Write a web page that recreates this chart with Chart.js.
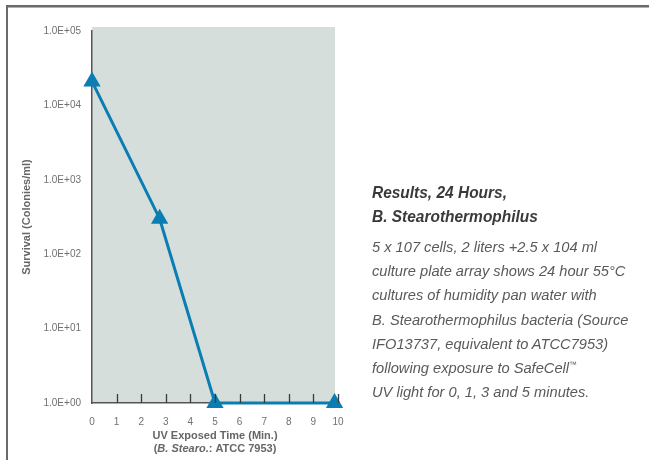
<!DOCTYPE html>
<html>
<head>
<meta charset="utf-8">
<script src="https://cdn.jsdelivr.net/npm/chart.js@4.4.1/dist/chart.umd.min.js"></script>
<style>
  html, body { margin: 0; padding: 0; background: #fff; }
  #wrap { position: relative; width: 649px; height: 460px; overflow: hidden; font-family: "Liberation Sans", Arial, sans-serif; }
  #chart { position: absolute; left: 0; top: 0; }
  .frame-top { position: absolute; left: 6px; top: 5px; width: 643px; height: 2px; background: #6a6a6a; border-bottom: 1px solid #b0b0b0; }
  .frame-left { position: absolute; left: 6px; top: 5px; width: 2px; height: 455px; background: #6a6a6a; }
  .notes { position: absolute; left: 372px; top: 181px; }
  .notes h2 { margin: 0; font-size: 16.3px; line-height: 23.5px; font-weight: bold; font-style: italic; color: #3a3a3a; transform: scaleX(0.95); transform-origin: 0 0; white-space: nowrap; }
  .notes p { margin: 7px 0 0 0; font-size: 15.5px; line-height: 24.2px; font-style: italic; color: #5a5a5a; transform: scaleX(0.945); transform-origin: 0 0; white-space: nowrap; }
  .tm { font-size: 8px; line-height: 0; position: relative; top: -6px; }
</style>
</head>
<body>
<div id="wrap">
  <canvas id="chart" width="649" height="460"></canvas>
  <div class="frame-top"></div>
  <div class="frame-left"></div>
  <div class="notes">
    <h2>Results, 24 Hours,<br>B. Stearothermophilus</h2>
    <p>5 x 107 cells, 2 liters +2.5 x 104 ml<br>culture plate array shows 24 hour 55°C<br>cultures of humidity pan water with<br>B. Stearothermophilus bacteria (Source<br>IFO13737, equivalent to ATCC7953)<br>following exposure to SafeCell<span class="tm">™</span><br>UV light for 0, 1, 3 and 5 minutes.</p>
  </div>
</div>
<script>
// Exposure time (minutes) and surviving colonies per ml
const exposureMinutes = [0, 2.75, 5, 9.86];
const survivalColonies = [21000, 300, 1, 1];

// Axis ticks
const xTickValues = [0, 1, 2, 3, 4, 5, 6, 7, 8, 9, 10];
const yTickValues = [1, 10, 100, 1000, 10000, 100000];
const yTickLabels = ['1.0E+00', '1.0E+01', '1.0E+02', '1.0E+03', '1.0E+04', '1.0E+05'];

const FONT = '"Liberation Sans", Arial, sans-serif';
const LINE_BLUE = '#0a7db3';
const AXIS_GREY = '#555555';
const LABEL_GREY = '#707070';

// Plot panel fill
const panelBackground = {
  id: 'panelBackground',
  beforeDraw(chart) {
    const { ctx, chartArea: a } = chart;
    ctx.save();
    ctx.fillStyle = '#d5dedb';
    ctx.fillRect(a.left, a.top - 4, a.right - a.left - 3, a.bottom - a.top + 4);
    ctx.restore();
  }
};

// Inward tick marks on the time axis and the two-line axis title
const timeAxisDecor = {
  id: 'timeAxisDecor',
  afterDraw(chart) {
    const { ctx, chartArea: a, scales } = chart;
    const x = scales.x;
    ctx.save();
    ctx.strokeStyle = '#3a3a3a';
    ctx.lineWidth = 1.3;
    xTickValues.forEach(v => {
      if (v === 0) return;
      const px = Math.round(x.getPixelForValue(v)) + 0.5;
      ctx.beginPath();
      ctx.moveTo(px, a.bottom);
      ctx.lineTo(px, a.bottom - 9);
      ctx.stroke();
    });
    ctx.restore();

    const cx = (a.left + a.right) / 2;
    ctx.save();
    ctx.fillStyle = '#666666';
    ctx.textBaseline = 'middle';
    ctx.textAlign = 'center';
    ctx.font = 'bold 11px ' + FONT;
    ctx.fillText('UV Exposed Time (Min.)', cx, a.bottom + 33);

    // second line mixes upright and italic runs
    const parts = [
      { t: '(', f: 'bold 11px ' + FONT },
      { t: 'B. Stearo.', f: 'italic bold 11px ' + FONT },
      { t: ': ATCC 7953)', f: 'bold 11px ' + FONT }
    ];
    let total = 0;
    parts.forEach(p => { ctx.font = p.f; p.w = ctx.measureText(p.t).width; total += p.w; });
    let px = cx - total / 2;
    ctx.textAlign = 'left';
    parts.forEach(p => { ctx.font = p.f; ctx.fillText(p.t, px, a.bottom + 46); px += p.w; });
    ctx.restore();
  }
};

new Chart(document.getElementById('chart'), {
  type: 'line',
  data: {
    datasets: [{
      data: exposureMinutes.map((m, i) => ({ x: m, y: survivalColonies[i] })),
      borderColor: LINE_BLUE,
      backgroundColor: LINE_BLUE,
      borderWidth: 3,
      pointStyle: 'triangle',
      pointRadius: 10,
      pointBorderWidth: 0,
      tension: 0,
      clip: false
    }]
  },
  options: {
    responsive: false,
    animation: false,
    layout: { padding: { left: 0, top: 31, right: 311, bottom: 0 } },
    plugins: { legend: { display: false }, tooltip: { enabled: false } },
    scales: {
      x: {
        type: 'linear',
        min: 0,
        max: 10,
        afterFit(s) { s.height = 57; },
        afterBuildTicks(s) { s.ticks = xTickValues.map(v => ({ value: v })); },
        grid: { display: false, drawTicks: false },
        border: { display: true, color: AXIS_GREY, width: 1.5 },
        ticks: { color: LABEL_GREY, font: { family: FONT, size: 10 }, padding: 13 }
      },
      y: {
        type: 'logarithmic',
        min: 1,
        max: 100000,
        afterFit(s) { s.width = 92; },
        afterBuildTicks(s) { s.ticks = yTickValues.map(v => ({ value: v })); },
        grid: { display: false, drawTicks: false },
        border: { display: true, color: AXIS_GREY, width: 1.5 },
        ticks: {
          color: LABEL_GREY,
          font: { family: FONT, size: 10 },
          padding: 11,
          callback(value) { return yTickLabels[yTickValues.indexOf(value)]; }
        },
        title: {
          display: true,
          text: 'Survival (Colonies/ml)',
          color: '#666666',
          font: { family: FONT, size: 11, weight: 'bold' },
          padding: { top: 20, bottom: 0 }
        }
      }
    }
  },
  plugins: [panelBackground, timeAxisDecor]
});
</script>
</body>
</html>
